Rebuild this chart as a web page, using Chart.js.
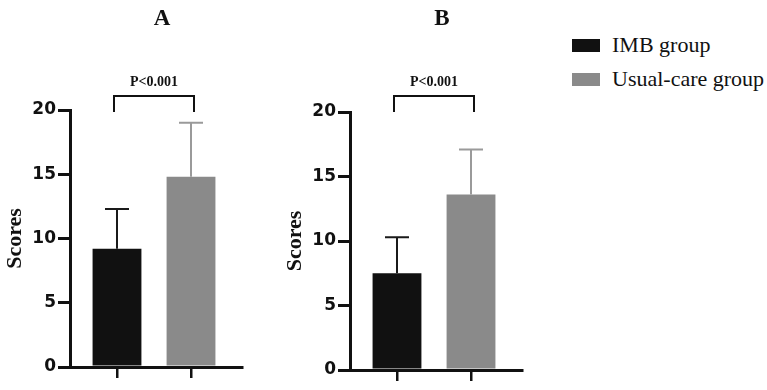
<!DOCTYPE html>
<html>
<head>
<meta charset="utf-8">
<script src="https://cdn.jsdelivr.net/npm/chart.js@4.4.0/dist/chart.umd.min.js"></script>
<style>
  body { margin: 0; background: #fff; }
  #wrap { position: relative; width: 767px; height: 390px; }
  canvas { position: absolute; top: 0; }
  #chartA { left: 0; }
  #chartB { left: 280px; }
  .item { position: absolute; left: 572px; height: 24px; font-family: "Liberation Serif", "Times New Roman", serif; font-size: 22px; color: #111; }
  .item span.box { position: absolute; left: 0; top: 6px; width: 28px; height: 13px; }
  .item span.txt { position: absolute; left: 40px; top: 0; line-height: 24px; white-space: nowrap; }
</style>
</head>
<body>
<div id="wrap">
  <canvas id="chartA" width="260" height="390"></canvas>
  <canvas id="chartB" width="260" height="390"></canvas>
  <div id="legend"></div>
</div>
<script>
const categories = ['IMB group', 'Usual-care group'];
const panelTitles = ['A', 'B'];
const meansA = [9.2, 14.8];
const sdA = [3.1, 4.2];
const meansB = [7.5, 13.6];
const sdB = [2.8, 3.5];
const pLabel = 'P<0.001';
const yTicks = [0, 5, 10, 15, 20];
const barColors = ['#111111', '#8a8a8a'];
const errColors = ['#1a1a1a', '#9a9a9a'];

// legend as html
const legendEl = document.getElementById('legend');
categories.forEach((c, i) => {
  const d = document.createElement('div');
  d.className = 'item';
  d.style.top = (33 + i * 34) + 'px';
  d.innerHTML = '<span class="box" style="background:' + barColors[i] + '"></span><span class="txt"></span>';
  d.querySelector('.txt').textContent = c;
  legendEl.appendChild(d);
});

function makePanel(id, title, means, sds, padTop, xHeight) {
  const extras = {
    id: 'extras',
    afterDatasetsDraw(chart) {
      const ctx = chart.ctx;
      const xs = chart.scales.x, ys = chart.scales.y;
      const bars = chart.getDatasetMeta(0).data;
      ctx.save();
      // error bars (upper only)
      ctx.lineWidth = 2;
      bars.forEach((bar, i) => {
        const top = ys.getPixelForValue(means[i] + sds[i]);
        ctx.strokeStyle = errColors[i];
        ctx.beginPath();
        ctx.moveTo(bar.x, bar.y);
        ctx.lineTo(bar.x, top);
        ctx.moveTo(bar.x - 12, top);
        ctx.lineTo(bar.x + 12, top);
        ctx.stroke();
      });
      // significance bracket
      const x0 = xs.getPixelForValue(0) - 3;
      const x1 = xs.getPixelForValue(1) + 3;
      const yEnd = 112;
      const yTop = 96;
      ctx.strokeStyle = '#111';
      ctx.lineWidth = 2;
      ctx.beginPath();
      ctx.moveTo(x0, yEnd);
      ctx.lineTo(x0, yTop);
      ctx.lineTo(x1, yTop);
      ctx.lineTo(x1, yEnd);
      ctx.stroke();
      ctx.fillStyle = '#111';
      ctx.textAlign = 'center';
      ctx.textBaseline = 'middle';
      ctx.font = 'bold 14px "Liberation Serif", serif';
      ctx.fillText(pLabel, (x0 + x1) / 2, yTop - 14);
      // panel letter
      ctx.font = 'bold 23px "Liberation Serif", serif';
      ctx.fillText(title, chart.chartArea.left + 92, 19);
      ctx.restore();
    }
  };

  return new Chart(document.getElementById(id), {
    type: 'bar',
    data: {
      datasets: [{
        label: title,
        data: means.map((m, i) => ({ x: i, y: m })),
        backgroundColor: barColors,
        borderWidth: 0,
        categoryPercentage: 1,
        barPercentage: 0.66
      }]
    },
    options: {
      responsive: false,
      animation: false,
      layout: { padding: { top: padTop, right: 18, left: 0, bottom: 0 } },
      plugins: { legend: { display: false }, tooltip: { enabled: false } },
      scales: {
        x: {
          type: 'linear',
          offset: false,
          min: -0.635,
          max: 1.689,
          afterBuildTicks: s => { s.ticks = categories.map((c, i) => ({ value: i })); },
          afterFit: s => { s.height = xHeight; },
          ticks: { callback: () => '' },
          grid: { offset: false, drawOnChartArea: false, drawTicks: true, tickLength: 11, color: '#111', lineWidth: 2.5 },
          border: { display: true, color: '#111', width: 3 }
        },
        y: {
          min: 0,
          max: 20,
          afterBuildTicks: s => { s.ticks = yTicks.map(v => ({ value: v })); },
          afterFit: s => { s.width = 70; },
          ticks: {
            color: '#111',
            padding: 2,
            font: { family: '"DejaVu Sans", Arial, sans-serif', size: 17, weight: 'bold' }
          },
          grid: { drawOnChartArea: false, drawTicks: true, tickLength: 12, color: '#111', lineWidth: 3 },
          border: { color: '#111', width: 3 },
          title: {
            display: true,
            text: 'Scores',
            color: '#111',
            padding: { top: 2, bottom: 0 },
            font: { family: '"Liberation Serif", serif', size: 22, weight: 'bold' }
          }
        }
      }
    },
    plugins: [extras]
  });
}

makePanel('chartA', panelTitles[0], meansA, sdA, 110, 23);
makePanel('chartB', panelTitles[1], meansB, sdB, 112, 20);
</script>
</body>
</html>
